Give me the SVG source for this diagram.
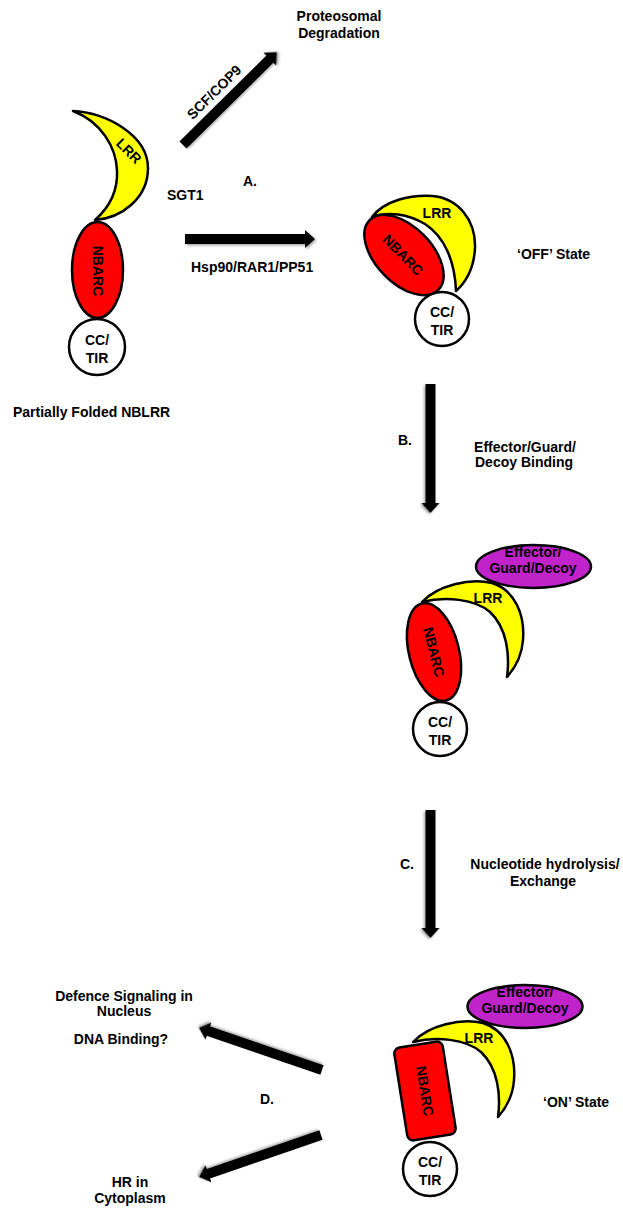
<svg xmlns="http://www.w3.org/2000/svg" width="623" height="1209" viewBox="0 0 623 1209">
<style>
text{font-family:"Liberation Sans",Arial,sans-serif;font-weight:bold;font-size:14px;fill:#000}
.m{text-anchor:middle}
.lrr{fill:#FFFF00;stroke:#000;stroke-width:2.5;stroke-linejoin:round}
.nb{fill:#FF0000;stroke:#000;stroke-width:2.5}
.cc{fill:#FFFFFF;stroke:#000;stroke-width:2.5}
.eff{fill:#C023C9;stroke:#000;stroke-width:2.5}
.arrow{fill:#000;filter:url(#sh)}
</style>
<defs>
<filter id="sh" x="-20%" y="-50%" width="140%" height="200%">
<feDropShadow dx="1.5" dy="1.5" stdDeviation="1" flood-color="#000" flood-opacity="0.35"/>
</filter>
</defs>
<rect width="623" height="1209" fill="#fff"/>

<g id="connectors">
<path class="arrow" transform="translate(183,145) rotate(-44.7)" d="M0,-5 H122 V-9 L132,0 L122,9 V5 H0 Z"/>
<path class="arrow" transform="translate(185,239)" d="M0,-5 H120 V-9 L130,0 L120,9 V5 H0 Z"/>
<path class="arrow" transform="translate(430.5,384) rotate(90)" d="M0,-5 H119 V-9 L129,0 L119,9 V5 H0 Z"/>
<path class="arrow" transform="translate(430.5,810) rotate(90)" d="M0,-5 H118 V-9 L128,0 L118,9 V5 H0 Z"/>
<path class="arrow" transform="translate(322,1070) rotate(198.9)" d="M0,-5 H120 V-9 L130,0 L120,9 V5 H0 Z"/>
<path class="arrow" transform="translate(321,1135) rotate(161)" d="M0,-5 H119 V-9 L129,0 L119,9 V5 H0 Z"/>
</g>

<g id="labels">
<text class="m" x="339" y="21">Proteosomal</text>
<text class="m" x="339" y="38">Degradation</text>
<text class="m" transform="translate(214,92) rotate(-44.7)" x="0" y="5">SCF/COP9</text>
<text x="167" y="200">SGT1</text>
<text x="243" y="186">A.</text>
<text x="191" y="272">Hsp90/RAR1/PP51</text>
<text x="517" y="259">&#8216;OFF&#8217; State</text>
<text x="13" y="417">Partially Folded NBLRR</text>
<text x="398" y="445">B.</text>
<text class="m" x="525" y="452">Effector/Guard/</text>
<text class="m" x="524" y="467">Decoy Binding</text>
<text x="400" y="869">C.</text>
<text class="m" x="545" y="869">Nucleotide hydrolysis/</text>
<text class="m" x="543" y="886">Exchange</text>
<text x="260" y="1104">D.</text>
<text x="543" y="1107">&#8216;ON&#8217; State</text>
<text class="m" x="124" y="1001">Defence Signaling in</text>
<text class="m" x="124" y="1016">Nucleus</text>
<text class="m" x="121" y="1044">DNA Binding?</text>
<text class="m" x="130" y="1187">HR in</text>
<text class="m" x="130" y="1203">Cytoplasm</text>
</g>

<g id="node-partial">
<path class="lrr" d="M73,111 C105,112 148,135 148,168 C148,198 122,218 95,220 C112,205 118,188 117,170 C116,148 102,122 73,111 Z"/>
<text class="m" transform="translate(129,151) rotate(45)" x="0" y="5">LRR</text>
<ellipse class="nb" cx="97.5" cy="270" rx="25.5" ry="48"/>
<text class="m" transform="translate(97.5,271) rotate(90)" x="0" y="5">NBARC</text>
<circle class="cc" cx="97" cy="347" r="28"/>
<text class="m" x="97" y="345">CC/</text>
<text class="m" x="97" y="363">TIR</text>
</g>

<g id="node-off">
<path class="lrr" d="M372,217 C385,200 410,195 432,196 C458,198 476,220 475,248 C474,268 466,282 456,291 C455,262 445,237 425,224 C408,214 388,211 372,217 Z"/>
<text class="m" x="437" y="218">LRR</text>
<ellipse class="nb" cx="404" cy="255" rx="49" ry="28" transform="rotate(45.8,404,255)"/>
<text class="m" transform="translate(403,255) rotate(45.8)" x="0" y="5">NBARC</text>
<circle class="cc" cx="442" cy="319" r="27"/>
<text class="m" x="442" y="317">CC/</text>
<text class="m" x="442" y="335">TIR</text>
</g>

<g id="node-bound">
<ellipse class="eff" cx="533.5" cy="566.5" rx="57.5" ry="21.5"/>
<text class="m" x="533" y="557">Effector/</text>
<text class="m" x="533" y="573">Guard/Decoy</text>
<path class="lrr" d="M422,602 C438,585 470,578 492,583 C515,590 525,615 523,640 C522,655 515,668 507,677 C510,655 507,628 490,612 C475,599 445,596 422,602 Z"/>
<text class="m" x="488" y="603">LRR</text>
<ellipse class="nb" cx="434" cy="652" rx="25" ry="50" transform="rotate(-14,434,652)"/>
<text class="m" transform="translate(434,652) rotate(76)" x="0" y="5">NBARC</text>
<circle class="cc" cx="440" cy="729" r="27"/>
<text class="m" x="440" y="727">CC/</text>
<text class="m" x="440" y="745">TIR</text>
</g>

<g id="node-on">
<ellipse class="eff" cx="525" cy="1006.5" rx="57.5" ry="21.5"/>
<text class="m" x="525" y="997">Effector/</text>
<text class="m" x="525" y="1013">Guard/Decoy</text>
<path class="lrr" transform="translate(-9,440)" d="M422,602 C438,585 470,578 492,583 C515,590 525,615 523,640 C522,655 515,668 507,677 C510,655 507,628 490,612 C475,599 445,596 422,602 Z"/>
<text class="m" x="479" y="1043">LRR</text>
<rect class="nb" x="400.5" y="1044" width="49" height="94" rx="6" transform="rotate(-9,425,1091)"/>
<text class="m" transform="translate(425,1091) rotate(81)" x="0" y="5">NBARC</text>
<circle class="cc" cx="430" cy="1169" r="27"/>
<text class="m" x="430" y="1167">CC/</text>
<text class="m" x="430" y="1185">TIR</text>
</g>
</svg>
